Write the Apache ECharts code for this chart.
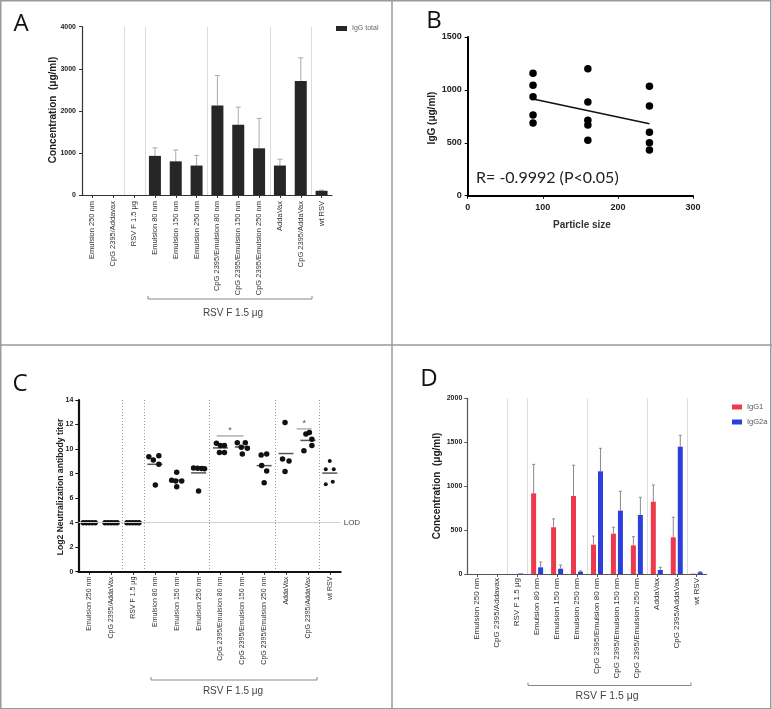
<!DOCTYPE html>
<html><head><meta charset="utf-8">
<script src="https://cdn.jsdelivr.net/npm/echarts/dist/echarts.min.js"></script>
<style>html,body{margin:0;padding:0;background:#fff}#c{width:772px;height:709px}</style>
</head><body><div id="c"></div>
<script>
// ---------- categories ----------
const catsA = ['Emulsion 250 nm','CpG 2395/Addavax','RSV F 1.5 μg','Emulsion 80 nm','Emulsion 150 nm','Emulsion 250 nm','CpG 2395/Emulsion 80 nm','CpG 2395/Emulsion 150 nm','CpG 2395/Emulsion 250 nm','AddaVax','CpG 2395/AddaVax','wt RSV'];
const catsC = ['Emulsion 250 nm','CpG 2395/AddaVax','RSV F 1.5 μg','Emulsion 80 nm','Emulsion 150 nm','Emulsion 250 nm','CpG 2395/Emulsion 80 nm','CpG 2395/Emulsion 150 nm','CpG 2395/Emulsion 250 nm','AddaVax','CpG 2395/AddaVax','wt RSV'];
const catsD = catsA;
const groupBreaks = [1, 2, 5, 8, 10]; // a separator follows each of these categories

// ---------- panel A: IgG total ----------
const igTotal   = [0, 0, 0, 930, 800, 700, 2130, 1670, 1110, 700, 2710, 100];
const igTotalSD = [0, 0, 0, 190, 270, 240, 710, 420, 710, 150, 550, 15];
const yTicksA = [0, 1000, 2000, 3000, 4000];

// ---------- panel B: IgG vs particle size ----------
const particleSize = [87, 160, 242];
const igG80nm  = [1157, 1043, 936, 762, 687];
const igG150nm = [1200, 886, 712, 668, 523];
const igG250nm = [1034, 848, 599, 501, 432];
const yTicksB = [0, 500, 1000, 1500];
const xTicksB = [0, 100, 200, 300];

// ---------- panel C: neutralization titers ----------
const titerGroups = [
  [4, 4, 4, 4, 4],
  [4, 4, 4, 4, 4],
  [4, 4, 4, 4, 4],
  [9.38, 9.11, 9.46, 8.76, 7.07],
  [8.1, 7.45, 7.4, 7.4, 6.93],
  [8.45, 8.43, 8.42, 8.4, 6.58],
  [10.47, 10.3, 10.28, 9.71, 9.71],
  [10.52, 10.52, 10.14, 10.06, 9.6],
  [9.52, 9.6, 8.65, 8.21, 7.26],
  [12.16, 9.19, 9.03, 8.16],
  [11.23, 11.34, 10.8, 9.87, 10.28],
  [9.03, 8.35, 8.35, 7.13, 7.34]
];
const lodValue = 4;
const sigBars = [[5.83, 7.05, 11.07], [9.49, 10.17, 11.64]]; // from, to (category units), height
const yTicksC = [0, 2, 4, 6, 8, 10, 12, 14];

// ---------- panel D: IgG1 / IgG2a ----------
const igG1    = [0, 0, 0, 918, 532, 888, 334, 459, 326, 823, 418, 4];
const igG1SD  = [0, 0, 0, 330, 95, 350, 98, 73, 99, 190, 228, 0];
const igG2a   = [0, 0, 6, 76, 60, 26, 1169, 721, 672, 46, 1449, 20];
const igG2aSD = [0, 0, 0, 60, 42, 10, 262, 220, 201, 30, 130, 6];
const yTicksD = [0, 500, 1000, 1500, 2000];

// ---------- layout (not data) ----------
const titerJitter = [
  [-6, -3, 0, 3, 6], [-6, -3, 0, 3, 6], [-6, -3, 0, 3, 6],
  [-6, -1.5, 4, 4, 0.5], [0, -5, 5, -1, 0], [-5, -1, 3, 6, 0],
  [-4, 0, 4, -1, 4], [-5, 3, -1, 5, 0], [-3, 2.5, -2.5, 2.5, 0],
  [-1, -3.5, 3, -1], [-2, 1.5, 4, -4, 4], [0, -4, 4, -4, 3]
];

const FONT = "'Liberation Sans', Arial, sans-serif";
const chart = echarts.init(document.getElementById('c'), null, {renderer: 'canvas'});

function catX(api, f) {
  const i = Math.floor(f);
  const a = api.coord([i, 0])[0];
  const b = api.coord([i + 1, 0])[0];
  return a + (f - i) * (b - a);
}
function sepSeries(xi, yi, color, dash) {
  return {
    type: 'custom', xAxisIndex: xi, yAxisIndex: yi, silent: true, z: 0,
    data: groupBreaks.map(b => [b, 0]), encode: {x: 0, y: 1},
    renderItem(p, api) {
      const cs = p.coordSys;
      const x = Math.round(catX(api, api.value(0) + 0.5)) + 0.5;
      return {type: 'line', shape: {x1: x, y1: cs.y, x2: x, y2: cs.y + cs.height},
        style: {stroke: color, lineWidth: 1, lineDash: dash || null}};
    }
  };
}
function errSeries(xi, yi, vals, sds, dx, color, capW) {
  return {
    type: 'custom', xAxisIndex: xi, yAxisIndex: yi, silent: true, z: 1,
    data: vals.map((v, i) => [i, v, v + sds[i]]), encode: {x: 0, y: [1, 2]},
    renderItem(p, api) {
      if (!(api.value(2) > api.value(1))) return null;
      const base = api.coord([api.value(0), api.value(1)]);
      const top = api.coord([api.value(0), api.value(2)]);
      const x = base[0] + dx;
      return {type: 'group', children: [
        {type: 'line', shape: {x1: x, y1: base[1], x2: x, y2: top[1]}, style: {stroke: color, lineWidth: 1}},
        {type: 'line', shape: {x1: x - capW / 2, y1: top[1], x2: x + capW / 2, y2: top[1]}, style: {stroke: color, lineWidth: 1}}
      ]};
    }
  };
}
function catAxis(gi, data, color, lw, fs, margin) {
  return {type: 'category', gridIndex: gi, data: data,
    axisLine: {show: true, lineStyle: {color: color, width: lw}},
    axisTick: {show: true, alignWithLabel: true, length: 3, lineStyle: {color: color, width: 1}},
    axisLabel: {rotate: 90, interval: 0, fontSize: fs, color: '#333', margin: margin, fontFamily: FONT},
    splitLine: {show: false}};
}
function valAxis(gi, min, max, interval, color, lw, fs, margin) {
  return {type: 'value', gridIndex: gi, min: min, max: max, interval: interval,
    axisLine: {show: true, lineStyle: {color: color, width: lw}},
    axisTick: {show: true, length: 3, lineStyle: {color: color, width: 1}},
    axisLabel: {fontSize: fs, fontWeight: 'bold', color: '#222', margin: margin, fontFamily: FONT,
      formatter: v => String(v)},
    splitLine: {show: false}};
}

// regression for panel B from its points
const bPts = [];
[igG80nm, igG150nm, igG250nm].forEach((g, gi) => g.forEach(v => bPts.push([particleSize[gi], v])));
const mx = bPts.reduce((s, p) => s + p[0], 0) / bPts.length;
const my = bPts.reduce((s, p) => s + p[1], 0) / bPts.length;
const slope = bPts.reduce((s, p) => s + (p[0] - mx) * (p[1] - my), 0) / bPts.reduce((s, p) => s + (p[0] - mx) ** 2, 0);
const icpt = my - slope * mx;
const xMinB = Math.min(...particleSize), xMaxB = Math.max(...particleSize);
const fitLine = [[xMinB, icpt + slope * xMinB], [xMaxB, icpt + slope * xMaxB]];

// panel C points
const cPts = [];
titerGroups.forEach((g, gi) => g.forEach((v, k) => cPts.push({
  value: [gi, v], symbolOffset: [titerJitter[gi][k], 0], symbolSize: gi === 11 ? 4 : 5.5
})));
const cMeans = titerGroups.map((g, i) => [i, g.reduce((a, b) => a + b, 0) / g.length]);

const frame = '#9a9a9a';
function bracket(x1, x2, y) {
  return {type: 'polyline', shape: {points: [[x1, y - 3], [x1, y], [x2, y], [x2, y - 3]]},
    style: {stroke: '#888', lineWidth: 1, fill: null}};
}
function txt(text, x, y, size, style, rot) {
  return {type: 'text', x: x, y: y, rotation: rot || 0,
    style: Object.assign({text: text, x: 0, y: 0, fontSize: size, fontFamily: FONT,
      fill: '#222', align: 'center', verticalAlign: 'middle'}, style || {})};
}
const V = Math.PI / 2;
const LETTER = {fontFamily: "'Open Sans', sans-serif", fill: '#111'};

const option = {
  animation: false,
  backgroundColor: '#fff',
  grid: [
    {left: 82, top: 26.7, width: 250, height: 168.3},
    {left: 467.7, top: 37, width: 225.3, height: 158.7},
    {left: 78.3, top: 400, width: 262.4, height: 171.7},
    {left: 467.3, top: 398.3, width: 239.4, height: 175.7}
  ],
  legend: [
    {data: ['IgG total'], left: 331, top: 20, itemWidth: 11, itemHeight: 5, icon: 'rect',
      textStyle: {fontSize: 7, color: '#666', fontFamily: FONT}},
    {data: ['IgG1', 'IgG2a'], orient: 'vertical', left: 727, top: 398, itemWidth: 10, itemHeight: 5, itemGap: 7, icon: 'rect',
      textStyle: {fontSize: 7.5, color: '#555', fontFamily: FONT}}
  ],
  xAxis: [
    catAxis(0, catsA, '#333', 1.2, 7.5, 6),
    valAxis(1, xTicksB[0], xTicksB[xTicksB.length - 1], 100, '#000', 2, 9, 7),
    catAxis(2, catsC, '#111', 2, 7, 5),
    catAxis(3, catsD, '#555', 1.2, 8, 4)
  ],
  yAxis: [
    valAxis(0, yTicksA[0], yTicksA[yTicksA.length - 1], 1000, '#333', 1.2, 7, 6),
    valAxis(1, yTicksB[0], yTicksB[yTicksB.length - 1], 500, '#000', 2, 9, 6),
    valAxis(2, yTicksC[0], yTicksC[yTicksC.length - 1], 2, '#111', 2.2, 7, 5),
    valAxis(3, yTicksD[0], yTicksD[yTicksD.length - 1], 500, '#555', 1.2, 7, 5)
  ],
  series: [
    // A
    sepSeries(0, 0, '#dcdcdc'),
    errSeries(0, 0, igTotal, igTotalSD, 0, '#aaa', 5),
    {name: 'IgG total', type: 'bar', xAxisIndex: 0, yAxisIndex: 0, data: igTotal, barWidth: 12, z: 2,
      itemStyle: {color: '#262626'}},
    // B
    {type: 'scatter', xAxisIndex: 1, yAxisIndex: 1, data: bPts, symbolSize: 7.5, itemStyle: {color: '#000', opacity: 1}, z: 3},
    {type: 'line', xAxisIndex: 1, yAxisIndex: 1, data: fitLine, symbol: 'none', lineStyle: {color: '#111', width: 1.5}, z: 2},
    // C
    sepSeries(2, 2, '#999', [1, 2]),
    {type: 'custom', xAxisIndex: 2, yAxisIndex: 2, silent: true, z: 1, data: cMeans, encode: {x: 0, y: 1},
      renderItem(p, api) {
        const c = api.coord([api.value(0), api.value(1)]);
        return {type: 'line', shape: {x1: c[0] - 7.5, y1: c[1], x2: c[0] + 7.5, y2: c[1]}, style: {stroke: '#555', lineWidth: 1.5}};
      }},
    {type: 'custom', xAxisIndex: 2, yAxisIndex: 2, silent: true, z: 1, data: sigBars, encode: {x: 0, y: 2},
      renderItem(p, api) {
        const x1 = catX(api, api.value(0)), x2 = catX(api, api.value(1));
        const y = api.coord([0, api.value(2)])[1];
        return {type: 'group', children: [
          {type: 'line', shape: {x1: x1, y1: y, x2: x2, y2: y}, style: {stroke: '#888', lineWidth: 1}},
          {type: 'text', style: {text: '*', x: (x1 + x2) / 2, y: y - 1, align: 'center', verticalAlign: 'bottom',
            fontSize: 9, fontFamily: FONT, fill: '#555'}}
        ]};
      }},
    {type: 'scatter', xAxisIndex: 2, yAxisIndex: 2, data: cPts, itemStyle: {color: '#111', opacity: 1}, z: 3,
      markLine: {silent: true, symbol: 'none', data: [{yAxis: lodValue}],
        lineStyle: {color: '#d0d0d0', type: 'solid', width: 1},
        label: {show: true, position: 'end', formatter: 'LOD', fontSize: 8, color: '#444', fontFamily: FONT, distance: 3}}},
    // D
    sepSeries(3, 3, '#dcdcdc'),
    errSeries(3, 3, igG1, igG1SD, -3.5, '#8a8a8a', 3),
    errSeries(3, 3, igG2a, igG2aSD, 3.5, '#8a8a8a', 3),
    {name: 'IgG1', type: 'bar', xAxisIndex: 3, yAxisIndex: 3, data: igG1, barWidth: 5, barGap: '40%', z: 2,
      itemStyle: {color: '#ec3a4c'}},
    {name: 'IgG2a', type: 'bar', xAxisIndex: 3, yAxisIndex: 3, data: igG2a, barWidth: 5, barGap: '40%', z: 2,
      itemStyle: {color: '#2a3fdb'}}
  ],
  graphic: [
    {type: 'rect', shape: {x: 0.75, y: 0.75, width: 770, height: 708}, style: {stroke: frame, lineWidth: 1.5, fill: null}},
    {type: 'line', shape: {x1: 392, y1: 0, x2: 392, y2: 709}, style: {stroke: frame, lineWidth: 1.5}},
    {type: 'line', shape: {x1: 0, y1: 345, x2: 772, y2: 345}, style: {stroke: frame, lineWidth: 1.5}},
    txt('A', 21, 24, 24, LETTER),
    txt('B', 434, 21.5, 24, LETTER),
    txt('C', 20, 384, 24, LETTER),
    txt('D', 429, 379, 24, LETTER),
    // axis titles
    txt('Concentration  (μg/ml)', 53, 110, 10, {fontWeight: 'bold'}, V),
    txt('IgG (μg/ml)', 432, 118, 10, {fontWeight: 'bold'}, V),
    txt('Particle size', 582, 225, 10, {fontWeight: 'bold', fill: '#333'}),
    txt('R= -0.9992 (P<0.05)', 476, 177.5, 16, {align: 'left', fontFamily: "Lato, 'Open Sans', sans-serif", fill: '#222'}),
    txt('Log2 Neutralization antibody titer', 60.5, 487, 8.6, {fontWeight: 'bold'}, V),
    txt('Concentration  (μg/ml)', 437, 486, 10, {fontWeight: 'bold'}, V),
    // brackets
    bracket(148, 312, 299), txt('RSV F 1.5 μg', 233, 313, 10, {fill: '#444'}),
    bracket(151, 317, 680), txt('RSV F 1.5 μg', 233, 691, 10, {fill: '#444'}),
    bracket(528, 691, 685.5), txt('RSV F 1.5 μg', 607, 696, 10.5, {fill: '#444'})
  ]
};
chart.setOption(option);
</script>
</body></html>
